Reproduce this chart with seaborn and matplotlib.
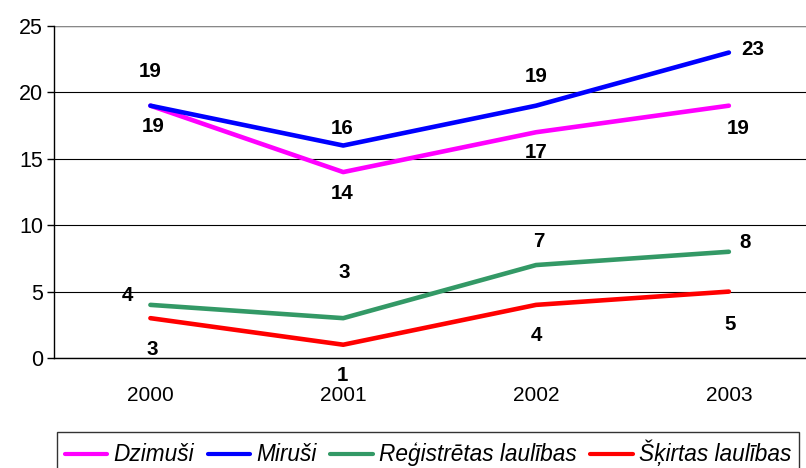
import pandas as pd
import matplotlib
matplotlib.use("Agg")
import matplotlib.pyplot as plt
import seaborn as sns

# Data
years = ["2000", "2001", "2002", "2003"]
series_names = ["Dzimuši", "Miruši", "Reģistrētas laulības", "Šķirtas laulības"]
dzimusi = [19, 14, 17, 19]
mirusi = [19, 16, 19, 23]
registretas = [4, 3, 7, 8]
skirtas = [3, 1, 4, 5]

colors = ["#FF00FF", "#0000FF", "#339966", "#FF0000"]
# label offsets in pixels (dx, dy) for each series/point
offsets = [
    [(3, -21), (-1, -21), (0, -20), (9, -23)],
    [(0, 34), (-1, 17), (0, 29), (24, 3)],
    [(-23, 9), (1, 46), (3, 24), (16, 9)],
    [(2, -31), (-1, -31), (0, -31), (1, -33)],
]

values = [dzimusi, mirusi, registretas, skirtas]
df = pd.DataFrame({
    "year": years * 4,
    "value": dzimusi + mirusi + registretas + skirtas,
    "series": [s for s in series_names for _ in years],
})
df["x"] = df["year"].map({y: i for i, y in enumerate(years)})

sns.set_style("white")
plt.rcParams["font.family"] = ["Liberation Sans", "DejaVu Sans"]
plt.rcParams["text.color"] = "black"
plt.rcParams["xtick.color"] = "black"
plt.rcParams["ytick.color"] = "black"

fig = plt.figure(figsize=(8.06, 4.68), dpi=100)
ax = fig.add_axes([54 / 806, 110 / 468, 752 / 806, 332 / 468])

sns.lineplot(data=df, x="x", y="value", hue="series", hue_order=series_names,
             palette=colors, linewidth=3.3, ax=ax, legend=False)

for vals, offs, c in zip(values, offsets, colors):
    for i, (v, (dx, dy)) in enumerate(zip(vals, offs)):
        ax.annotate(str(v), (i, v), xytext=(dx, dy), textcoords="offset pixels",
                    ha="center", va="center", fontsize=14.8, fontweight="bold", color="black")

ax.set_xlim(-0.5, 3.4)
ax.set_ylim(0, 25)
ax.set_yticks([0, 5, 10, 15, 20, 25])
ax.set_xticks(range(len(years)))
ax.set_xticklabels(years)
ax.set_xticks([0.5, 1.5, 2.5], minor=True)
ax.tick_params(axis="x", which="major", length=0, labelsize=15, pad=20)
ax.tick_params(axis="x", which="minor", length=5, direction="in", color="black", width=1)
ax.tick_params(axis="y", length=5, direction="out", labelsize=15.5, color="black", width=1, pad=3, left=True)
ax.set_xlabel("")
ax.set_ylabel("")
ax.grid(axis="y", color="black", linewidth=0.8)
ax.set_axisbelow(True)
for side in ["top", "right"]:
    ax.spines[side].set_visible(False)
ax.spines["left"].set_color("black")
ax.spines["bottom"].set_color("black")
ax.spines["left"].set_linewidth(1)
ax.spines["bottom"].set_linewidth(1)
ax.axhline(25, color="#888888", linewidth=1)

handles = [plt.Line2D([], [], color=c, linewidth=3) for c in colors]
leg = fig.legend(handles, series_names, loc="upper left", bbox_to_anchor=(57 / 806, 1 - 432 / 468),
                 ncol=4, frameon=True, fancybox=False, handlelength=1.86, handletextpad=0.27,
                 columnspacing=0.62, borderpad=0.35, borderaxespad=0,
                 prop={"style": "italic", "size": 16.3})
leg.get_frame().set_edgecolor("black")
leg.get_frame().set_linewidth(1)

fig.savefig("out.png", dpi=100)
